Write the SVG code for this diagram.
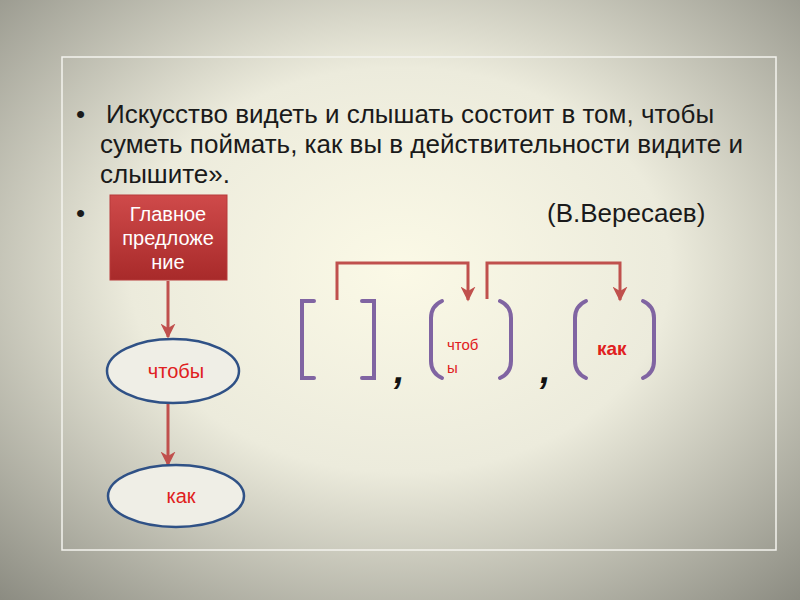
<svg xmlns="http://www.w3.org/2000/svg" width="800" height="600" viewBox="0 0 800 600">
<defs>
<radialGradient id="bg" cx="0.5" cy="0.45" r="0.75">
<stop offset="0" stop-color="#fbf9e6"/>
<stop offset="0.45" stop-color="#ecebdc"/>
<stop offset="1" stop-color="#8a8a80"/>
</radialGradient>
<linearGradient id="red" x1="0" y1="0" x2="0" y2="1">
<stop offset="0" stop-color="#cf4a4a"/>
<stop offset="1" stop-color="#a82a2a"/>
</linearGradient>
<marker id="ah" viewBox="0 0 10 10" refX="9" refY="5" markerWidth="5" markerHeight="5" orient="auto">
<path d="M0,0 L10,5 L0,10 L3,5 Z" fill="#c0504d"/>
</marker>
</defs>
<style>
.t{font-family:"Liberation Sans",Arial,sans-serif;font-size:26px;fill:#1a1a1a}
.cm{font-family:"Liberation Sans",Arial,sans-serif;font-size:38px;font-weight:bold;font-style:italic;fill:#111}
.conn{stroke:#c0504d;stroke-width:3;fill:none}
.br{stroke:#8064a2;stroke-width:4;fill:none;stroke-linecap:round}
.ell{fill:#efeee6;stroke:#2f5186;stroke-width:2.5}
.rt{font-family:"Liberation Sans",Arial,sans-serif;fill:#e02020}
.wt{font-family:"Liberation Sans",Arial,sans-serif;font-size:20px;fill:#ffffff;text-anchor:middle}
</style>
<rect width="800" height="600" fill="url(#bg)"/>
<rect x="62" y="57" width="714" height="493" fill="none" stroke="#f4f3ee" stroke-width="1.5"/>
<g id="quote">
<text class="t" x="76" y="123">•</text>
<text class="t" x="106" y="123">Искусство видеть и слышать состоит в том, чтобы</text>
<text class="t" x="100" y="153">суметь поймать, как вы в действительности видите и</text>
<text class="t" x="100" y="183">слышите».</text>
<text class="t" x="76" y="222">•</text>
<text class="t" x="547" y="222">(В.Вересаев)</text>
</g>
<g id="connectors">
<line class="conn" x1="168" y1="281" x2="168" y2="337" marker-end="url(#ah)"/>
<line class="conn" x1="168" y1="404" x2="168" y2="465" marker-end="url(#ah)"/>
<path class="conn" d="M337,300 V263 H468 V300" marker-end="url(#ah)"/>
<path class="conn" d="M487,299 V263 H620 V300" marker-end="url(#ah)"/>
</g>
<g id="main">
<rect x="110" y="195" width="117" height="85" fill="url(#red)" stroke="#b73a3a" stroke-width="1"/>
<text class="wt" x="168" y="221">Главное</text>
<text class="wt" x="168" y="245">предложе</text>
<text class="wt" x="168" y="269">ние</text>
</g>
<g id="chtoby">
<ellipse class="ell" cx="173" cy="371" rx="66" ry="32"/>
<text class="rt" x="176" y="378" font-size="20" text-anchor="middle">чтобы</text>
</g>
<g id="kak">
<ellipse class="ell" cx="176" cy="496" rx="68" ry="31"/>
<text class="rt" x="181" y="503" font-size="20" text-anchor="middle">как</text>
</g>
<g id="scheme">
<path class="br" d="M314,301 H302 V378 H314"/>
<path class="br" d="M362,301 H374 V378 H362"/>
<text class="cm" x="394" y="383">,</text>
<path class="br" d="M442,301 Q431,306 431,318 V361 Q431,373 442,378"/>
<path class="br" d="M500,301 Q511,306 511,318 V361 Q511,373 500,378"/>
<text class="rt" x="447" y="350" font-size="15">чтоб</text>
<text class="rt" x="447" y="373" font-size="15">ы</text>
<text class="cm" x="540" y="383">,</text>
<path class="br" d="M586,301 Q575,306 575,318 V361 Q575,373 586,378"/>
<path class="br" d="M643,301 Q654,306 654,318 V361 Q654,373 643,378"/>
<text class="rt" x="597" y="355" font-size="19" font-weight="bold">как</text>
</g>
</svg>
